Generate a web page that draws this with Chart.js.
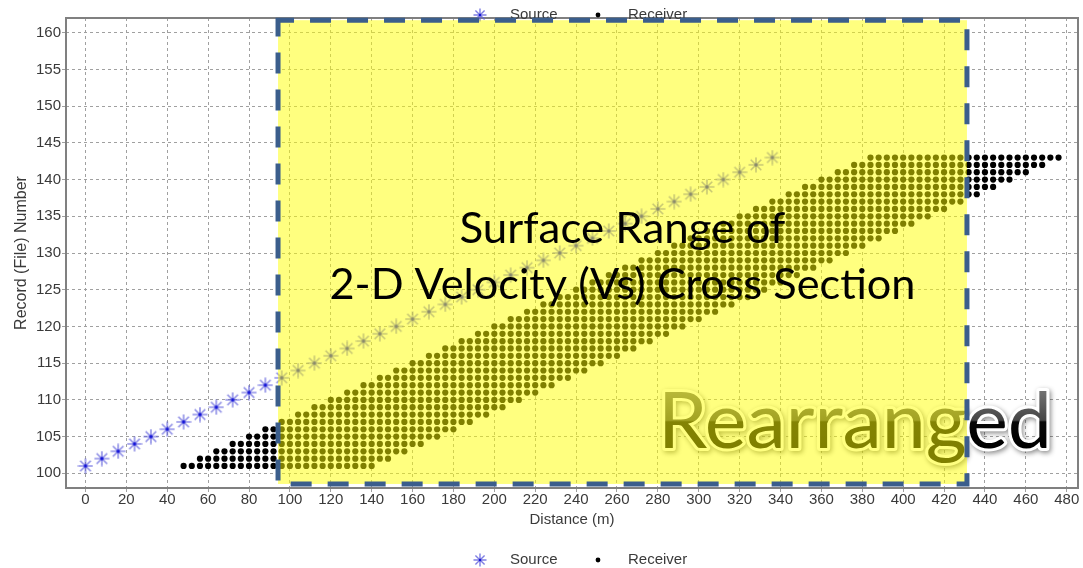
<!DOCTYPE html>
<html>
<head>
<meta charset="utf-8">
<script src="https://cdn.jsdelivr.net/npm/chart.js@4.4.1/dist/chart.umd.min.js"></script>
<style>
  html, body { margin: 0; padding: 0; background: #ffffff; overflow: hidden; }
  #wrap { width: 1083px; height: 568px; position: relative; }
  #c { display: block; }
</style>
</head>
<body>
<div id="wrap"><canvas id="c" width="1083" height="568"></canvas></div>
<script>
// ---------------- data ----------------
const records = [101,102,103,104,105,106,107,108,109,110,111,112,113,114,115,116,117,118,119,120,121,122,
                 123,124,125,126,127,128,129,130,131,132,133,134,135,136,137,138,139,140,141,142,143];
const sourceDistance = [0,8,16,24,32,40,48,56,64,72,80,88,96,104,112,120,128,136,144,152,160,168,
                        176,184,192,200,208,216,224,232,240,248,256,264,272,280,288,296,304,312,320,328,336];
const receiverFirst = [48,56,64,72,80,88,96,104,112,120,128,136,144,152,160,168,176,184,192,200,208,216,
                       224,232,240,248,256,264,272,280,288,296,304,312,320,328,336,344,352,360,368,376,384];
const receiverLast = [140,148,156,164,172,180,188,196,204,212,220,228,236,244,252,260,268,276,284,292,300,308,
                      316,324,332,340,348,356,364,372,380,388,396,404,412,420,428,436,444,452,460,468,476];
const receiverSpacing = 4;

const xTickValues = [0,20,40,60,80,100,120,140,160,180,200,220,240,260,280,300,320,340,360,380,400,420,440,460,480];
const yTickValues = [100,105,110,115,120,125,130,135,140,145,150,155,160];

const seriesNames = ['Source', 'Receiver'];
const xTitle = 'Distance (m)';
const yTitle = 'Record (File) Number';
const overlayTitle = ['Surface Range of', '2-D Velocity (Vs) Cross Section'];
const stampText = 'Rearranged';

// ---------------- annotation geometry (data units) ----------------
const HIGHLIGHT = { x0: 94.2, x1: 431.2, y0: 98.55, y1: 161.7 };
const TITLE_LINES = [ { y: 131.35, width: 326 }, { y: 123.7, width: 586 } ];
const STAMP = { x0: 278.6, x1: 474.3, yBase: 103.45, capTop: 111.0 };

// ---------------- build point lists ----------------
const sourcePoints = records.map((r, i) => ({ x: sourceDistance[i], y: r }));
const receiverPoints = [];
records.forEach((r, i) => {
  for (let d = receiverFirst[i]; d <= receiverLast[i]; d += receiverSpacing) {
    receiverPoints.push({ x: d, y: r });
  }
});

// ---------------- marker images ----------------
function makeStar(size, spoke, dot, lw, dotR) {
  const c = document.createElement('canvas');
  c.width = size; c.height = size;
  const g = c.getContext('2d');
  const cx = size / 2, cy = size / 2, r = size / 2 - 0.5;
  g.strokeStyle = spoke; g.lineWidth = lw;
  g.beginPath();
  for (let k = 0; k < 4; k++) {
    const a = k * Math.PI / 4;
    g.moveTo(cx - r * Math.cos(a), cy - r * Math.sin(a));
    g.lineTo(cx + r * Math.cos(a), cy + r * Math.sin(a));
  }
  g.stroke();
  g.fillStyle = dot;
  g.beginPath(); g.arc(cx, cy, dotR, 0, Math.PI * 2); g.fill();
  return c;
}
const starImg = makeStar(16, 'rgba(95,95,220,0.7)', '#1414d8', 1.6, 1.7);
const legendStar = makeStar(14, 'rgba(95,95,220,0.8)', '#1414d8', 1.4, 1.2);

const TXT = '#3a3a3a';
const FONT = "'Liberation Sans', Arial, sans-serif";

// ---------------- custom drawing plugin ----------------
function drawLegend(ctx, cy) {
  const x0 = 480;
  ctx.save();
  ctx.drawImage(legendStar, x0 - 7, cy - 7, 14, 14);
  ctx.fillStyle = '#000';
  ctx.beginPath(); ctx.arc(x0 + 118, cy, 2.4, 0, Math.PI * 2); ctx.fill();
  ctx.fillStyle = TXT;
  ctx.font = "15px " + FONT;
  ctx.textBaseline = 'middle';
  ctx.textAlign = 'left';
  ctx.fillText(seriesNames[0], x0 + 30, cy);
  ctx.fillText(seriesNames[1], x0 + 148, cy);
  ctx.restore();
}

function fitText(ctx, text, cx, baseline, font, targetW, mode) {
  ctx.save();
  ctx.font = font;
  const w = ctx.measureText(text).width;
  const s = targetW / w;
  ctx.translate(cx, baseline);
  ctx.scale(s, 1);
  ctx.textAlign = 'center';
  ctx.textBaseline = 'alphabetic';
  mode(ctx, text);
  ctx.restore();
}

const overlayPlugin = {
  id: 'overlay',
  afterDatasetsDraw(chart) {
    const ctx = chart.ctx;
    const xs = chart.scales.x, ys = chart.scales.y;
    const ca = chart.chartArea;

    // plot frame
    ctx.save();
    ctx.strokeStyle = '#808080';
    ctx.lineWidth = 2;
    ctx.strokeRect(ca.left, ca.top, ca.right - ca.left, ca.bottom - ca.top);
    ctx.restore();

    // top legend (partly hidden by highlight)
    drawLegend(ctx, 15);

    // "Rearranged" stamp, under the highlight
    const sx0 = xs.getPixelForValue(STAMP.x0), sx1 = xs.getPixelForValue(STAMP.x1);
    const sBase = ys.getPixelForValue(STAMP.yBase), sTop = ys.getPixelForValue(STAMP.capTop);
    const cap = sBase - sTop;
    const stampSize = cap / 0.7165;
    fitText(ctx, stampText, (sx0 + sx1) / 2, sBase, stampSize.toFixed(1) + "px Lato, 'Open Sans', sans-serif", sx1 - sx0 - 6, (c, t) => {
      c.lineJoin = 'round';
      c.shadowColor = 'rgba(0,0,0,0.45)';
      c.shadowBlur = 5;
      c.shadowOffsetX = 1.5; c.shadowOffsetY = 2;
      c.strokeStyle = '#ffffff';
      c.lineWidth = 6;
      c.strokeText(t, 0, 0);
      c.shadowColor = 'transparent';
      const grd = c.createLinearGradient(0, -cap, 0, 0);
      grd.addColorStop(0, '#707070');
      grd.addColorStop(0.5, '#454545');
      grd.addColorStop(0.53, '#080808');
      grd.addColorStop(1, '#000000');
      c.fillStyle = grd;
      c.fillText(t, 0, 0);
    });

    // yellow highlight with dashed border
    const hx0 = xs.getPixelForValue(HIGHLIGHT.x0), hx1 = xs.getPixelForValue(HIGHLIGHT.x1);
    const hy0 = ys.getPixelForValue(HIGHLIGHT.y1), hy1 = ys.getPixelForValue(HIGHLIGHT.y0);
    ctx.save();
    ctx.fillStyle = 'rgba(255,255,0,0.5)';
    ctx.fillRect(hx0, hy0, hx1 - hx0, hy1 - hy0);
    ctx.strokeStyle = '#3b5e8c';
    ctx.lineWidth = 5;
    ctx.setLineDash([21, 16]);
    ctx.lineDashOffset = 5;
    ctx.beginPath();
    ctx.moveTo(hx0, hy0); ctx.lineTo(hx1, hy0); ctx.lineTo(hx1, hy1); ctx.lineTo(hx0, hy1); ctx.closePath();
    ctx.stroke();
    ctx.restore();

    // title on the highlight
    const cx = (hx0 + hx1) / 2;
    TITLE_LINES.forEach((ln, i) => {
      const b = ys.getPixelForValue(ln.y);
      fitText(ctx, overlayTitle[i], cx, b, "43px Lato, 'Open Sans', sans-serif", ln.width, (c, t) => {
        c.fillStyle = '#000';
        c.fillText(t, 0, 0);
      });
    });

    // bottom legend
    drawLegend(ctx, 560);
  }
};

new Chart(document.getElementById('c'), {
  type: 'scatter',
  data: {
    datasets: [
      { label: seriesNames[1], data: receiverPoints, pointStyle: 'circle', pointRadius: 3.1, pointHoverRadius: 3.1,
        backgroundColor: '#000000', borderWidth: 0 },
      { label: seriesNames[0], data: sourcePoints, pointStyle: starImg, pointRadius: 8,
        backgroundColor: '#4040e0', borderColor: '#4040e0' }
    ]
  },
  options: {
    responsive: false,
    animation: false,
    layout: { autoPadding: false, padding: { top: 18, right: 5, left: 0, bottom: 0 } },
    plugins: { legend: { display: false }, tooltip: { enabled: false } },
    scales: {
      x: {
        type: 'linear',
        min: -9.52, max: 485.52,
        afterFit(s) { s.height = 80; s.paddingLeft = 0; s.paddingRight = 0; },
        afterBuildTicks(s) { s.ticks = xTickValues.map(v => ({ value: v })); },
        grid: { color: '#a0a0a0', lineWidth: 1, tickLength: 4, drawTicks: true },
        border: { display: false, dash: [3, 3] },
        ticks: { color: TXT, font: { family: FONT, size: 15, lineHeight: 1 }, padding: 0, maxRotation: 0, includeBounds: false },
        title: { display: true, text: xTitle, color: TXT, font: { family: FONT, size: 15, lineHeight: 1.2 }, padding: { top: 0, bottom: 39 } }
      },
      y: {
        type: 'linear',
        min: 98, max: 162,
        afterFit(s) { s.width = 66; s.paddingTop = 0; s.paddingBottom = 0; },
        afterBuildTicks(s) { s.ticks = yTickValues.map(v => ({ value: v })); },
        grid: { color: '#a0a0a0', lineWidth: 1, tickLength: 4, drawTicks: true },
        border: { display: false, dash: [3, 3] },
        ticks: { color: TXT, font: { family: FONT, size: 15 }, padding: 1, includeBounds: false },
        title: { display: true, text: yTitle, color: TXT, font: { family: FONT, size: 16, lineHeight: 1.2 }, padding: { top: 12, bottom: 0 } }
      }
    }
  },
  plugins: [overlayPlugin]
});
</script>
</body>
</html>
